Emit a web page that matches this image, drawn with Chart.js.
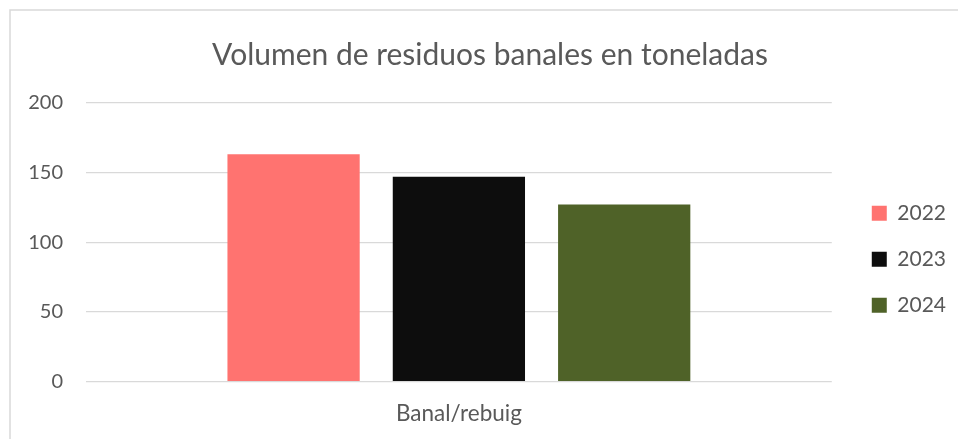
<!DOCTYPE html>
<html><head><meta charset="utf-8">
<script src="https://cdn.jsdelivr.net/npm/chart.js@4/dist/chart.umd.min.js"></script>
<style>html,body{margin:0;padding:0;background:#fff;overflow:hidden}#wrap{width:958px;height:439px;position:relative}</style>
</head><body><div id="wrap"><canvas id="c" width="958" height="439" style="width:958px;height:439px"></canvas></div>
<script>
const categories = ['Banal/rebuig'];
const seriesLabels = ['2022', '2023', '2024'];
const values2022 = [163];
const values2023 = [147];
const values2024 = [127];
const yTicks = [0, 50, 100, 150, 200];
const seriesColors = ['#FF7370', '#0D0D0D', '#4F6228'];
const titleText = 'Volumen de residuos banales en toneladas';

const FONT = 'Lato';
const TXT = '#595959';
const GRID = '#d9d9d9';

const borderPlugin = {
  id: 'outerBorder',
  beforeDraw(chart) {
    const ctx = chart.ctx;
    ctx.save();
    ctx.fillStyle = '#fff';
    ctx.fillRect(0, 0, chart.width, chart.height);
    ctx.strokeStyle = GRID;
    ctx.lineWidth = 1.5;
    ctx.strokeRect(10, 10, chart.width + 50, chart.height + 50);
    ctx.restore();
  }
};

const seriesValues = [values2022, values2023, values2024];
new Chart(document.getElementById('c'), {
  type: 'bar',
  data: {
    labels: categories,
    datasets: seriesLabels.map((l, i) => ({
      label: l,
      data: seriesValues[i],
      backgroundColor: seriesColors[i],
      borderWidth: 0,
      categoryPercentage: 0.665,
      barPercentage: 0.8
    }))
  },
  options: {
    responsive: false,
    animation: false,
    devicePixelRatio: 1,
    layout: { padding: { left: 24, right: 2, top: 0, bottom: 0 } },
    plugins: {
      tooltip: { enabled: false },
      title: {
        display: true,
        text: titleText,
        color: TXT,
        font: { family: FONT, size: 30, weight: 'normal' },
        padding: { top: 37, bottom: 29.7 }
      },
      legend: {
        position: 'right',
        fullSize: false,
        title: { display: true, text: ' ', font: { size: 10 }, padding: { top: 11, bottom: 11 } },
        labels: {
          boxWidth: 15,
          boxHeight: 15,
          padding: 25,
          color: TXT,
          font: { family: FONT, size: 21 }
        }
      }
    },
    scales: {
      x: {
        grid: { display: false, drawTicks: false },
        border: { display: false },
        ticks: { color: TXT, font: { family: FONT, size: 22.5 }, padding: 19 },
        afterFit(s) { s.height = 57.3; }
      },
      y: {
        min: yTicks[0],
        max: yTicks[yTicks.length - 1],
        afterBuildTicks(s) { s.ticks = yTicks.map(v => ({ value: v })); },
        grid: { color: GRID, lineWidth: 1.3, drawTicks: false },
        border: { display: false },
        ticks: { color: TXT, font: { family: FONT, size: 20 }, padding: 23 },
        afterFit(s) { s.width = 62; }
      },
      yR: {
        position: 'right',
        display: true,
        grid: { display: false, drawTicks: false },
        border: { display: false },
        ticks: { display: false },
        afterFit(s) { s.width = 15; }
      }
    }
  },
  plugins: [borderPlugin]
});
</script>
</body></html>
